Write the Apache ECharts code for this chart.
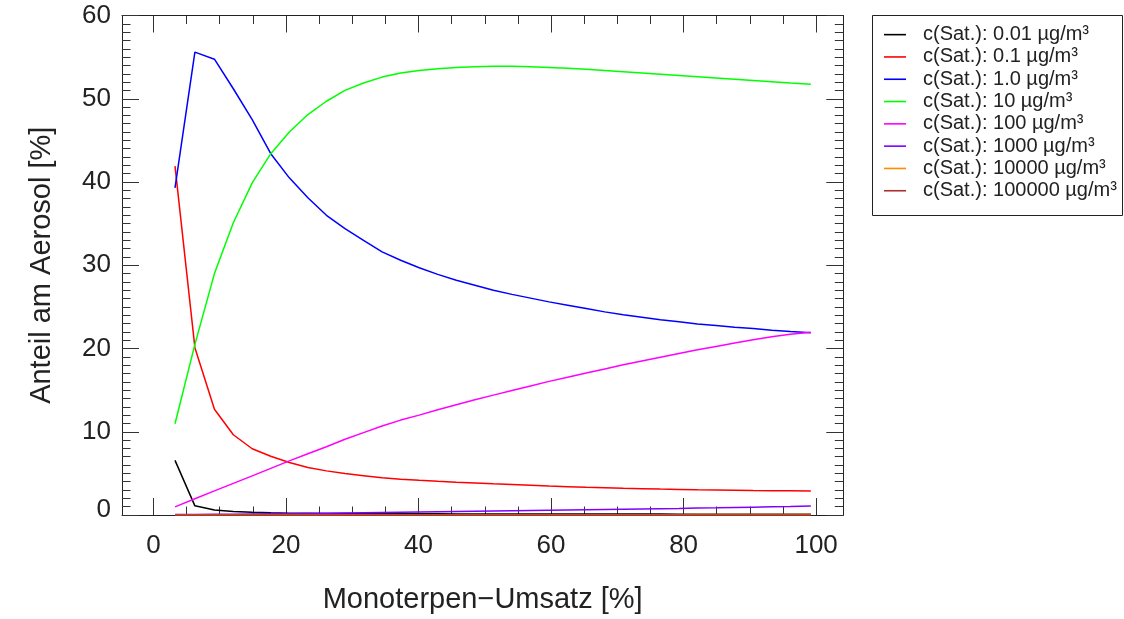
<!DOCTYPE html>
<html>
<head>
<meta charset="utf-8">
<script src="https://cdn.jsdelivr.net/npm/echarts@6/dist/echarts.min.js"></script>
<style>
  html, body { margin: 0; padding: 0; background: #fff; }
  #chart { width: 1124px; height: 619px; }
</style>
</head>
<body>
<div id="chart"></div>
<script>
// Monoterpene conversion [%] at which each model step is evaluated
const conversion = [3.25, 6.25, 9.2, 12.05, 14.9, 17.7, 20.5, 23.3, 26.1, 28.9, 31.7, 34.5, 37.3, 40.1, 42.9,
  45.7, 48.5, 51.3, 54.1, 56.9, 59.7, 62.5, 65.3, 68.1, 70.9, 73.7, 76.5, 79.3, 82.1, 84.9, 87.7, 90.5, 93.3, 96.1, 99.2];

// Share of the aerosol [%] per saturation-concentration class
const sat0_01 = [6.56, 1.1, 0.6, 0.42, 0.32, 0.26, 0.22, 0.2, 0.18, 0.17, 0.16, 0.15, 0.15, 0.14, 0.14,
  0.13, 0.13, 0.13, 0.12, 0.12, 0.12, 0.12, 0.11, 0.11, 0.11, 0.11, 0.11, 0.1, 0.1, 0.1, 0.1, 0.1, 0.1, 0.1, 0.1];
const sat0_1 = [41.9, 20.1, 12.7, 9.64, 7.96, 7.05, 6.3, 5.7, 5.3, 4.98, 4.72, 4.47, 4.3, 4.17, 4.05,
  3.94, 3.84, 3.74, 3.65, 3.56, 3.47, 3.4, 3.33, 3.27, 3.21, 3.16, 3.11, 3.07, 3.03, 3.0, 2.97, 2.94, 2.92, 2.9, 2.88];
const sat1 = [39.3, 55.6, 54.75, 51.2, 47.5, 43.4, 40.5, 38.1, 36.0, 34.4, 33.0, 31.6, 30.6, 29.7, 28.9,
  28.2, 27.6, 27.0, 26.5, 26.05, 25.6, 25.2, 24.8, 24.4, 24.05, 23.75, 23.45, 23.2, 22.95, 22.75, 22.55, 22.4, 22.2, 22.05, 21.9];
const sat10 = [10.96, 20.5, 29.0, 35.1, 39.9, 43.4, 46.0, 48.1, 49.7, 51.0, 51.9, 52.6, 53.1, 53.4, 53.6,
  53.75, 53.85, 53.9, 53.9, 53.85, 53.75, 53.65, 53.55, 53.4, 53.25, 53.1, 52.95, 52.8, 52.65, 52.5, 52.35, 52.2, 52.05, 51.9, 51.75];
const sat100 = [0.98, 1.95, 2.9, 3.8, 4.7, 5.6, 6.5, 7.35, 8.2, 9.1, 9.9, 10.7, 11.4, 12.0, 12.65,
  13.25, 13.85, 14.4, 14.95, 15.5, 16.05, 16.55, 17.05, 17.55, 18.05, 18.5, 18.95, 19.4, 19.85, 20.25, 20.65, 21.05, 21.4, 21.7, 21.95];
const sat1000 = [0.06, 0.07, 0.08, 0.1, 0.12, 0.14, 0.16, 0.19, 0.22, 0.25, 0.28, 0.31, 0.34, 0.37, 0.4,
  0.43, 0.46, 0.49, 0.52, 0.55, 0.58, 0.61, 0.64, 0.67, 0.7, 0.73, 0.76, 0.79, 0.83, 0.86, 0.9, 0.94, 0.98, 1.02, 1.07];
const sat10000 = [0.02, 0.02, 0.02, 0.02, 0.02, 0.02, 0.02, 0.02, 0.03, 0.03, 0.03, 0.03, 0.03, 0.03, 0.03,
  0.03, 0.03, 0.03, 0.03, 0.04, 0.04, 0.04, 0.04, 0.04, 0.04, 0.04, 0.04, 0.04, 0.05, 0.05, 0.05, 0.05, 0.05, 0.05, 0.05];
const sat100000 = [0.0, 0.0, 0.0, 0.0, 0.0, 0.0, 0.0, 0.0, 0.0, 0.0, 0.0, 0.0, 0.0, 0.0, 0.0,
  0.0, 0.0, 0.0, 0.0, 0.0, 0.0, 0.0, 0.0, 0.0, 0.0, 0.0, 0.0, 0.0, 0.0, 0.0, 0.0, 0.0, 0.0, 0.0, 0.0];

const seriesNames = [
  'c(Sat.): 0.01 µg/m³', 'c(Sat.): 0.1 µg/m³', 'c(Sat.): 1.0 µg/m³', 'c(Sat.): 10 µg/m³',
  'c(Sat.): 100 µg/m³', 'c(Sat.): 1000 µg/m³', 'c(Sat.): 10000 µg/m³', 'c(Sat.): 100000 µg/m³'
];
const seriesValues = [sat0_01, sat0_1, sat1, sat10, sat100, sat1000, sat10000, sat100000];
const seriesColors = ['#000000', '#ff0000', '#0000ff', '#00ff00', '#ff00ff', '#8000ff', '#ff8c00', '#b03030'];

// Axis ranges and tick positions
const xMin = -4.75, xMax = 104.1;
const yMin = 0, yMax = 60;
const xMajor = [0, 20, 40, 60, 80, 100];
const xMinor = [5, 10, 15, 25, 30, 35, 45, 50, 55, 65, 70, 75, 85, 90, 95];
const yMajor = [0, 10, 20, 30, 40, 50, 60];
const yMinor = [];
for (let v = 1; v < 60; v++) if (v % 10 !== 0) yMinor.push(v);

const ink = '#222';
const font = '"Liberation Sans", Arial, Helvetica, sans-serif';

function frameAxis(kind, position, ticks, tickLen, opts) {
  return Object.assign({
    type: 'value',
    gridIndex: 0,
    position: position,
    min: kind === 'x' ? xMin : yMin,
    max: kind === 'x' ? xMax : yMax,
    splitLine: { show: false },
    axisLine: { show: false, onZero: false, lineStyle: { color: ink, width: 1 } },
    axisTick: { show: true, inside: true, length: tickLen, customValues: ticks, lineStyle: { color: '#333', width: 1 } },
    axisLabel: { show: false }
  }, opts || {});
}

const chart = echarts.init(document.getElementById('chart'), null, { renderer: 'canvas' });

chart.setOption({
  animation: false,
  backgroundColor: '#ffffff',
  textStyle: { fontFamily: font },
  grid: { left: 122, top: 15.5, width: 721.3, height: 501, containLabel: false },
  xAxis: [
    frameAxis('x', 'bottom', xMajor, 17, {
      axisLine: { show: true, onZero: false, lineStyle: { color: ink, width: 1 } },
      axisLabel: { show: true, customValues: xMajor, fontSize: 26, color: ink, margin: 18, fontFamily: font },
      name: 'Monoterpen−Umsatz [%]',
      nameLocation: 'middle',
      nameGap: 70,
      nameTextStyle: { fontSize: 29, color: ink, fontFamily: font }
    }),
    frameAxis('x', 'bottom', xMinor, 8.5),
    frameAxis('x', 'top', xMajor, 17, { axisLine: { show: true, onZero: false, lineStyle: { color: ink, width: 1 } } }),
    frameAxis('x', 'top', xMinor, 8.5)
  ],
  yAxis: [
    frameAxis('y', 'left', yMajor, 17, {
      axisLine: { show: true, onZero: false, lineStyle: { color: ink, width: 1 } },
      axisLabel: {
        show: true, customValues: yMajor, fontSize: 26, color: ink, margin: 11, fontFamily: font,
        // the bottom label sits a little above its tick
        formatter: (v) => (v === 0 ? '{low|0}' : String(v)),
        rich: { low: { fontSize: 26, color: ink, fontFamily: font, padding: [0, 0, 10, 0] } }
      },
      name: 'Anteil am Aerosol [%]',
      nameLocation: 'middle',
      nameGap: 66,
      nameTextStyle: { fontSize: 29, color: ink, fontFamily: font }
    }),
    frameAxis('y', 'left', yMinor, 8.5),
    frameAxis('y', 'right', yMajor, 17, { axisLine: { show: true, onZero: false, lineStyle: { color: ink, width: 1 } } }),
    frameAxis('y', 'right', yMinor, 8.5)
  ],
  legend: {
    orient: 'vertical',
    left: 884,
    top: 23.5,
    padding: 0,
    itemGap: 0,
    itemWidth: 22,
    itemHeight: 1.6,
    icon: 'rect',
    selectedMode: false,
    data: seriesNames,
    textStyle: { fontSize: 20, color: ink, fontFamily: font, lineHeight: 22.3, padding: [0, 0, 0, 12] }
  },
  graphic: [{
    type: 'rect',
    shape: { x: 872.5, y: 15.5, width: 250, height: 200 },
    style: { fill: 'none', stroke: ink, lineWidth: 1 },
    silent: true
  }],
  series: seriesNames.map((name, i) => ({
    name: name,
    type: 'line',
    xAxisIndex: 0,
    yAxisIndex: 0,
    symbol: 'none',
    showSymbol: false,
    clip: false,
    z: 3,
    color: seriesColors[i],
    lineStyle: { color: seriesColors[i], width: 1.5 },
    data: conversion.map((x, k) => [x, seriesValues[i][k]])
  }))
});
</script>
</body>
</html>
